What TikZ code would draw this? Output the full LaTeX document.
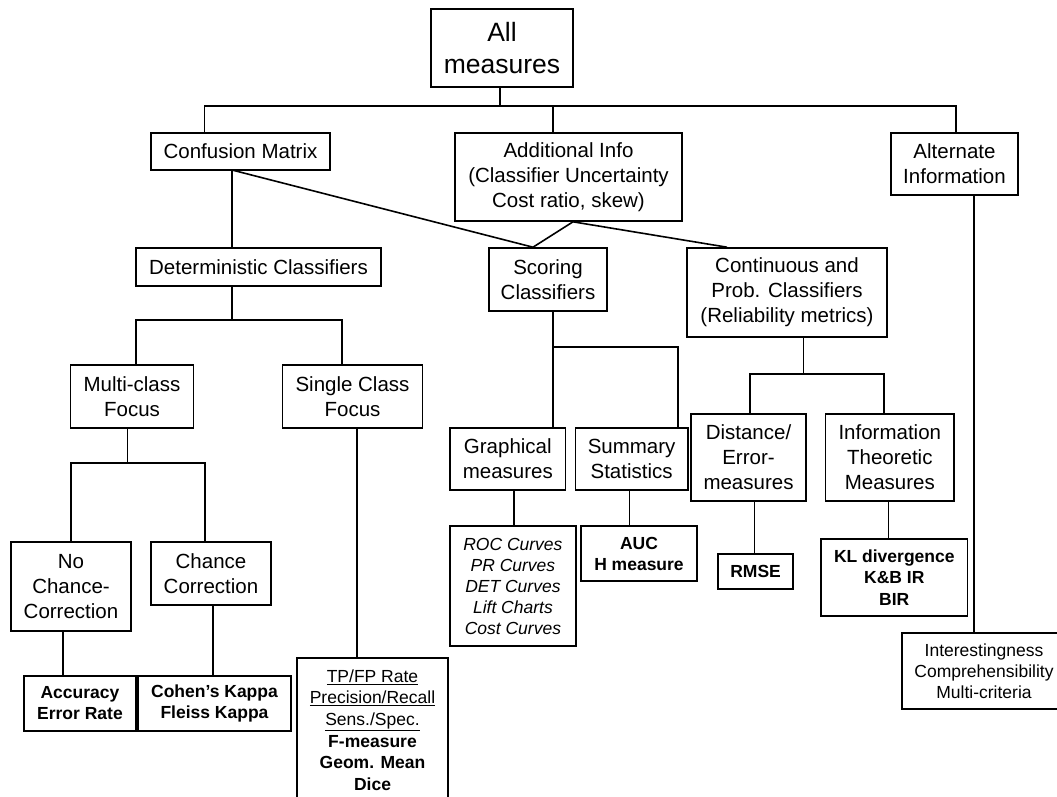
\documentclass[tikz,border=0pt]{standalone}
\usepackage{fontspec}
\setmainfont{Liberation Sans}
\newcommand\regfont{\fontsize{20.5}{25}\selectfont}
\newcommand\smallfont{\fontsize{17.5}{21}\selectfont}
\newcommand\bigfont{\fontsize{26.5}{32}\selectfont}
\begin{document}
\begin{tikzpicture}[x=1pt,y=-1pt,
  box/.style={draw, line width=1.6pt, align=center, inner sep=0pt, font=\regfont},
  boldbox/.style={box, font=\smallfont\bfseries},
  itbox/.style={box, font=\smallfont\itshape},
  smbox/.style={box, font=\smallfont},
  conn/.style={line width=1.6pt}]
\useasboundingbox (0,0) rectangle (1057,796);
\fill[white] (0,0) rectangle (1057,796);
\clip (0,0) rectangle (1057,796);

% ---- nodes ----
\node[box, font=\bigfont, minimum width=142pt, minimum height=78pt] (all) at (502,48) {All\\measures};
\node[box, minimum width=179pt, minimum height=37pt] (cm) at (240.5,151.5) {Confusion Matrix};
\node[box, minimum width=227pt, minimum height=88pt] (add) at (568.5,177) {Additional Info\\(Classifier Uncertainty\\Cost ratio, skew)};
\node[box, minimum width=127pt, minimum height=62pt] (alt) at (954.5,164) {Alternate\\Information};

\node[box, minimum width=245pt, minimum height=38pt] (det) at (258.5,267) {Deterministic Classifiers};
\node[box, minimum width=118pt, minimum height=63pt] (sco) at (548,279.5) {Scoring\\Classifiers};
\node[box, minimum width=200pt, minimum height=89pt] (con) at (787,292.5) {Continuous and\\Prob. Classifiers\\(Reliability metrics)};

\node[box, minimum width=122.7pt, minimum height=63pt] (mul) at (132,396.5) {Multi-class\\Focus};
\node[box, minimum width=140pt, minimum height=63pt] (sin) at (352.5,396.5) {Single Class\\Focus};

\node[box, minimum width=115.5pt, minimum height=62pt] (gra) at (507.8,459) {Graphical\\measures};
\node[box, minimum width=112.3pt, minimum height=62pt] (sum) at (631.6,459) {Summary\\Statistics};
\node[box, minimum width=115pt, minimum height=87pt] (dis) at (748.5,457.5) {Distance/\\Error-\\measures};
\node[box, minimum width=128.5pt, minimum height=87pt] (inf) at (889.8,457.5) {Information\\Theoretic\\Measures};

\node[box, minimum width=120pt, minimum height=89pt] (noc) at (71,586.5) {No\\Chance-\\Correction};
\node[box, minimum width=120pt, minimum height=63pt] (cha) at (211,573.5) {Chance\\Correction};

\node[itbox, minimum width=125.8pt, minimum height=120pt] (roc) at (512.9,586) {ROC Curves\\PR Curves\\DET Curves\\Lift Charts\\Cost Curves};
\node[boldbox, minimum width=116pt, minimum height=55pt] (auc) at (639,553.5) {AUC\\H measure};
\node[boldbox, minimum width=75.3pt, minimum height=35pt] (rms) at (755.6,571.5) {RMSE};
\node[boldbox, minimum width=146.6pt, minimum height=77pt, font=\fontsize{17.5}{21.5}\selectfont\bfseries] (kl) at (894.3,577.5) {KL divergence\\K\&B IR\\BIR};
\node[smbox, minimum width=164pt, minimum height=76pt] (int) at (984,671) {Interestingness\\Comprehensibility\\Multi-criteria};

\node[boldbox, minimum width=112pt, minimum height=55pt] (acc) at (80,703.5) {Accuracy\\Error Rate};
\node[boldbox, minimum width=153pt, minimum height=55pt] (coh) at (214.5,703.5) {Cohen's Kappa\\Fleiss Kappa};
\node[smbox, minimum width=151pt, minimum height=144pt, font=\fontsize{17.5}{21.6}\selectfont] (tp) at (372.5,730)
  {\underline{TP/FP Rate}\\\underline{Precision/Recall}\\\underline{Sens./Spec.}\\\textbf{F-measure}\\\textbf{Geom. Mean}\\\textbf{Dice}};

% ---- connectors ----
\coordinate (bAll) at (500,106);
\draw[conn] (bAll |- all.south) -- (bAll);
\draw[conn] ([xshift=-36pt]cm.north) |- (bAll) -| ([xshift=1.5pt]alt.north);
\draw[conn] ([xshift=-15.5pt]add.north) -- ([xshift=-15.5pt]add.north |- bAll);

\coordinate (cmdown) at (232,170);
\draw[conn] (cmdown) -- (cmdown |- det.north);
\draw[conn] (cmdown) -- ([xshift=-15pt]sco.north);
\draw[conn] ([xshift=4.5pt]add.south) -- ([xshift=-15pt]sco.north);
\draw[conn] ([xshift=4.5pt]add.south) -- ([xshift=-60pt]con.north);

\coordinate (bDet) at (232,320);
\draw[conn] (bDet |- det.south) -- (bDet);
\draw[conn] ([xshift=4pt]mul.north) |- (bDet) -| ([xshift=-10.5pt]sin.north);

\coordinate (bMul) at (127.5,463);
\draw[conn] (bMul |- mul.south) -- (bMul);
\draw[conn] ([xshift=-0.3pt]noc.north) |- (bMul) -| ([xshift=-6pt]cha.north);

\draw[conn] ([xshift=4.5pt]sin.south) -- ([xshift=4.5pt]sin.south |- tp.north);
\draw[conn] ([xshift=-8pt]noc.south) -- ([xshift=-8pt]noc.south |- acc.north);
\draw[conn] ([xshift=2pt]cha.south) -- ([xshift=2pt]cha.south |- coh.north);

\coordinate (bSco) at (553,347);
\draw[conn] (bSco |- sco.south) -- (bSco |- gra.north);
\draw[conn] (bSco) -| ([xshift=46.4pt]sum.north);
\draw[conn] ([xshift=6pt]gra.south) -- ([xshift=6pt]gra.south |- roc.north);
\draw[conn] ([xshift=-2pt]sum.south) -- ([xshift=-2pt]sum.south |- auc.north);

\coordinate (bCon) at (803.6,374);
\draw[conn] (bCon |- con.south) -- (bCon);
\draw[conn] ([xshift=1.5pt]dis.north) |- (bCon) -| ([xshift=-6pt]inf.north);
\draw[conn] ([xshift=6pt]dis.south) -- ([xshift=6pt]dis.south |- rms.north);
\draw[conn] ([xshift=-1.3pt]inf.south) -- ([xshift=-1.3pt]inf.south |- kl.north);

\draw[conn] ([xshift=19.5pt]alt.south) -- ([xshift=19.5pt]alt.south |- int.north);
\end{tikzpicture}
\end{document}
